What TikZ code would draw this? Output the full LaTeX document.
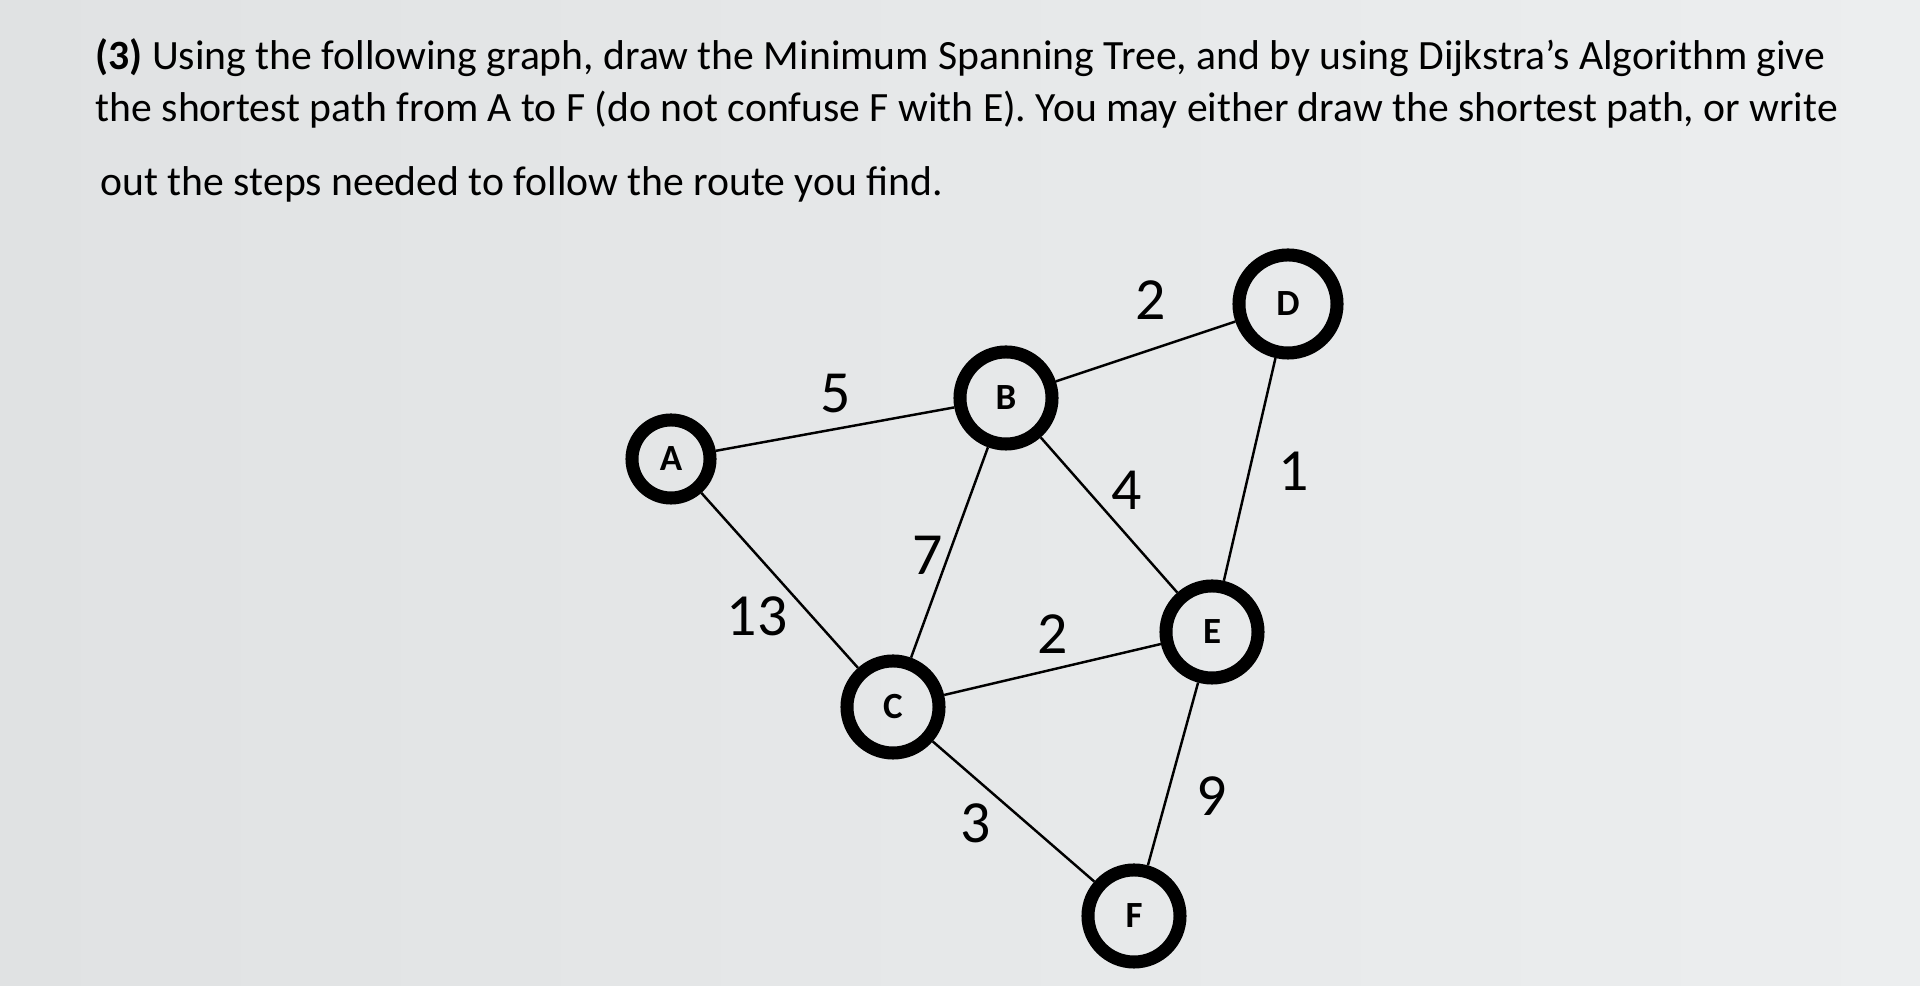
\documentclass[tikz,border=0pt]{standalone}
\usepackage{fontspec}
\setmainfont{Carlito}
\usetikzlibrary{positioning}
\definecolor{screen}{RGB}{224,226,227}
\definecolor{screenlight}{RGB}{236,238,239}

\begin{document}
\begin{tikzpicture}[x=0.01cm, y=-0.01cm,
    vert/.style={draw, circle, line width=3.7pt, minimum size=0.92cm, inner sep=0pt,
                 font=\fontsize{10.5}{10.5}\selectfont\bfseries},
    wt/.style={font=\fontsize{17}{17}\selectfont, inner sep=0pt},
    qline/.style={anchor=base west, inner sep=0pt, font=\fontsize{11.85}{14}\selectfont},
    edge/.style={line width=0.7pt}
]
\useasboundingbox[left color=screen, right color=screenlight] (0,0) rectangle (1920,986);

% ============================================================
% Question text
% ============================================================
\node[qline] (q1) at (95,70)  {\textbf{(3)} Using the following graph, draw the Minimum Spanning Tree, and by using Dijkstra’s Algorithm give};
\node[qline] (q2) at (95,122) {the shortest path from A to F (do not confuse F with E). You may either draw the shortest path, or write};
\node[qline] (q3) at (100,196) {out the steps needed to follow the route you find.};

% ============================================================
% Vertices
% ============================================================
\node[vert, minimum size=0.78cm] (A) at (671,459) {A};
\node[vert] (B) at (1006,398) {B};
\node[vert, minimum size=0.98cm] (D) at (1288,304) {D};
\node[vert] (C) at (893,707) {C};
\node[vert] (E) at (1212,632) {E};
\node[vert] (F) at (1134,916) {F};

% edges
\foreach \u/\v in {A/B, B/D, A/C, B/C, B/E, D/E, C/E, C/F, E/F} {
    \draw[edge] (\u) -- (\v);
}

% weights
\foreach \n/\x/\y/\w in {wab/836/394/5, wbd/1151/300/2, wbe/1127/490/4, wde/1294/471/1,
                         wbc/928/555/7, wac/757/616/13, wce/1053/634/2, wef/1212/796/9,
                         wcf/976/823/3} {
    \node[wt] (\n) at (\x,\y) {\w};
}

\end{tikzpicture}
\end{document}
